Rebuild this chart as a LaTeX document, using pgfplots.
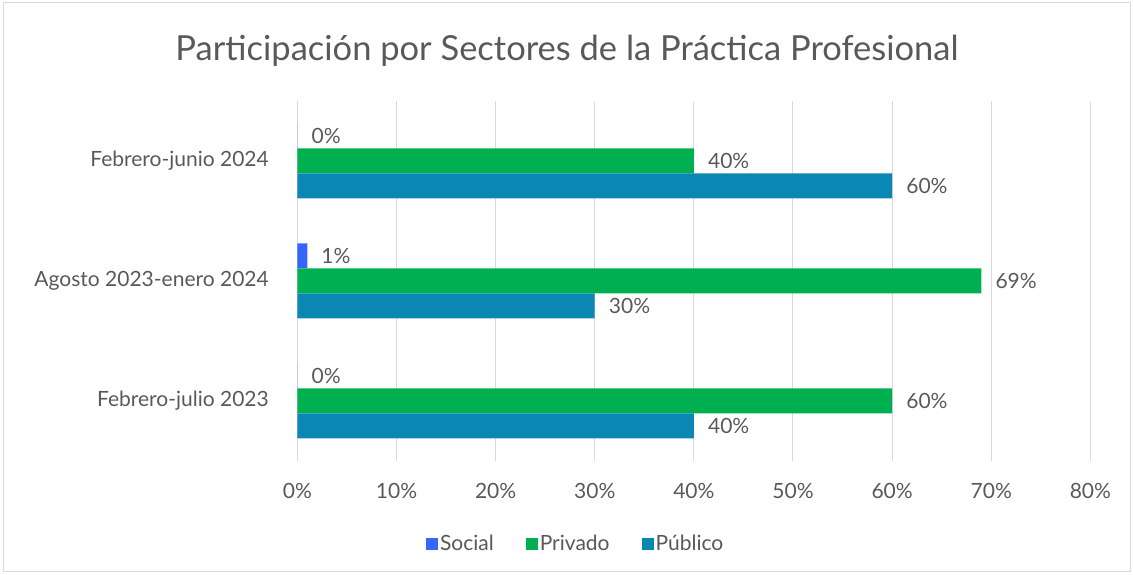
\documentclass[border=0pt]{standalone}
\usepackage{pgfplots}
\pgfplotsset{compat=1.18}
\usepackage{fontspec}
\setmainfont{Lato}
\definecolor{social}{HTML}{3366FF}
\definecolor{privado}{HTML}{00B050}
\definecolor{publico}{HTML}{0B87B4}
\definecolor{txt}{HTML}{595959}
\definecolor{gridc}{HTML}{D9D9D9}
\begin{document}
\begin{tikzpicture}[x=1pt,y=1pt]
\path[use as bounding box] (0,0) rectangle (1133,575);
\draw[gridc, line width=1pt] (3,3) rectangle (1130,572);
\begin{axis}[
  at={(300,95)}, anchor=south west, scale only axis,
  width=793pt, height=360pt,
  /pgf/number format/assume math mode=true,
  xbar, bar width=25pt,
  xmin=0, xmax=80, ymin=-0.5, ymax=2.5,
  xtick={0,10,...,80},
  xticklabels={0\%,10\%,20\%,30\%,40\%,50\%,60\%,70\%,80\%},
  ytick={0,1,2},
  yticklabels={Febrero-julio 2023, Agosto 2023-enero 2024, Febrero-junio 2024},
  xmajorgrids, grid style={gridc, line width=1pt},
  axis line style={draw=none}, major tick length=0pt,
  tick label style={font=\fontsize{21}{24}\selectfont, text=txt},
  xticklabel style={yshift=-19pt},
  yticklabel style={xshift=-25pt},
  nodes near coords={\pgfmathprintnumber{\pgfplotspointmeta}\%},
  point meta=x,
  every node near coord/.append style={anchor=west, inner sep=0pt, xshift=14pt,
     font=\fontsize{21}{24}\selectfont, text=txt},
  title={Participación por Sectores de la Práctica Profesional},
  title style={at={(axis description cs:0.34,1.122)}, anchor=center,
     font=\fontsize{34.5}{40}\selectfont, text=txt},
  legend style={at={(axis description cs:0.351,-0.23)}, anchor=center, draw=none,
     legend columns=3, font=\fontsize{21}{24}\selectfont, text=txt,
     /tikz/every even column/.append style={column sep=30pt}},
  legend image code/.code={\fill[#1] (0pt,-6pt) rectangle (12pt,6pt);},
]
\addplot[fill=social, draw=none, bar shift=25pt] coordinates {(0,0) (1,1) (0,2)};
\addlegendentry{Social}
\addplot[fill=privado, draw=none, bar shift=0pt] coordinates {(60,0) (69,1) (40,2)};
\addlegendentry{Privado}
\addplot[fill=publico, draw=none, bar shift=-25pt] coordinates {(40,0) (30,1) (60,2)};
\addlegendentry{Público}
\end{axis}
\end{tikzpicture}
\end{document}
